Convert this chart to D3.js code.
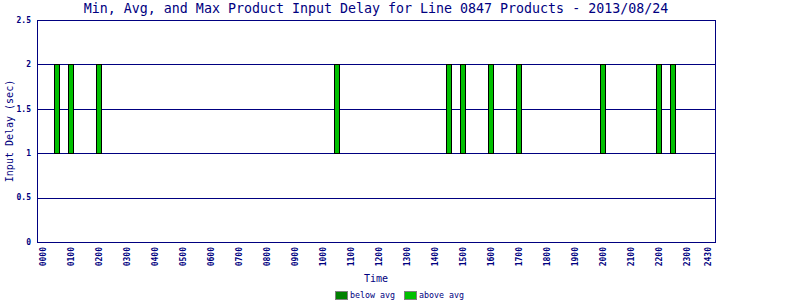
<!DOCTYPE html>
<html>
<head>
<meta charset="utf-8">
<script src="https://cdn.jsdelivr.net/npm/d3@7"></script>
<style>
  body { margin: 0; background: #fff; }
  text { font-family: "DejaVu Sans Mono", monospace; fill: #000080; }
</style>
</head>
<body>
<div id="chart"></div>
<script>
// sample times (hhmm) and delay stats in seconds
const times = ['0030', '0100', '0200', '1030', '1430', '1500', '1600', '1700', '2000', '2200', '2230'];
const minDelay = [1, 1, 1, 1, 1, 1, 1, 1, 1, 1, 1];
const avgDelay = [1, 1, 1, 1, 1, 1, 1, 1, 1, 1, 1];
const maxDelay = [2, 2, 2, 2, 2, 2, 2, 2, 2, 2, 2];

const xTickHours = d3.range(0, 24).concat([23.75]);
const xTickLabels = ['0000', '0100', '0200', '0300', '0400', '0500', '0600', '0700', '0800', '0900',
  '1000', '1100', '1200', '1300', '1400', '1500', '1600', '1700', '1800', '1900',
  '2000', '2100', '2200', '2300', '2430'];
const yTicks = [0, 0.5, 1, 1.5, 2, 2.5];
const legendLabels = ['below avg', 'above avg'];

const width = 800;
const height = 300;
const margin = { top: 20, right: 85, bottom: 58, left: 37 };
const innerW = width - margin.left - margin.right;
const innerH = height - margin.top - margin.bottom;
const navy = '#000080';
const colBelow = '#008000';
const colAbove = '#00c000';

const toHours = (t) => +t.slice(0, 2) + +t.slice(2) / 60;

const svg = d3
  .select('#chart')
  .append('svg')
  .attr('width', width)
  .attr('height', height);

const g = svg.append('g').attr('transform', `translate(${margin.left},${margin.top})`);

const x = d3.scaleLinear().domain([-0.2, 24]).range([0, innerW]);
const y = d3.scaleLinear().domain([0, 2.5]).range([innerH, 0]);

// horizontal grid lines
g.selectAll('line.grid')
  .data(yTicks)
  .enter()
  .append('line')
  .attr('class', 'grid')
  .attr('x1', 0)
  .attr('x2', innerW)
  .attr('y1', (d) => Math.round(y(d)) + 0.5)
  .attr('y2', (d) => Math.round(y(d)) + 0.5)
  .attr('stroke', navy)
  .attr('stroke-width', 1);

// bars: min..avg (below) and avg..max (above)
const rows = times.map((t, i) => ({ h: toHours(t), min: minDelay[i], avg: avgDelay[i], max: maxDelay[i] }));
const barW = 6;

g.selectAll('rect.below')
  .data(rows.filter((d) => d.avg > d.min))
  .enter()
  .append('rect')
  .attr('x', (d) => Math.round(x(d.h)) - barW / 2 + 0.5)
  .attr('y', (d) => Math.round(y(d.avg)) + 0.5)
  .attr('width', barW - 1)
  .attr('height', (d) => Math.round(y(d.min)) - Math.round(y(d.avg)))
  .attr('fill', colBelow)
  .attr('stroke', '#000');

g.selectAll('rect.above')
  .data(rows.filter((d) => d.max > d.avg))
  .enter()
  .append('rect')
  .attr('x', (d) => Math.round(x(d.h)) - barW / 2 + 0.5)
  .attr('y', (d) => Math.round(y(d.max)) + 0.5)
  .attr('width', barW - 1)
  .attr('height', (d) => Math.round(y(d.avg)) - Math.round(y(d.max)))
  .attr('fill', colAbove)
  .attr('stroke', '#000');

// plot frame
g.append('rect')
  .attr('x', 0.5)
  .attr('y', 0.5)
  .attr('width', innerW)
  .attr('height', innerH)
  .attr('fill', 'none')
  .attr('stroke', navy);

// y tick labels
g.selectAll('text.ytick')
  .data(yTicks)
  .enter()
  .append('text')
  .attr('x', -6)
  .attr('y', (d) => y(d))
  .attr('dy', '0.35em')
  .attr('text-anchor', 'end')
  .style('font-size', '8px')
  .style('font-weight', 'bold')
  .text((d) => d);

// x tick labels (rotated)
g.selectAll('text.xtick')
  .data(xTickHours)
  .enter()
  .append('text')
  .attr('transform', (d) => `translate(${x(d) + 3},${innerH + 5}) rotate(-90)`)
  .attr('text-anchor', 'end')
  .style('font-size', '8px')
  .style('font-weight', 'bold')
  .text((d, i) => xTickLabels[i]);

// title
svg.append('text')
  .attr('x', margin.left + innerW / 2)
  .attr('y', 13)
  .attr('text-anchor', 'middle')
  .style('font-size', '13.3px')
  .text('Min, Avg, and Max Product Input Delay for Line 0847 Products - 2013/08/24');

// axis titles
svg.append('text')
  .attr('x', margin.left + innerW / 2)
  .attr('y', 282)
  .attr('text-anchor', 'middle')
  .style('font-size', '10px')
  .text('Time');

svg.append('text')
  .attr('transform', `translate(13,${margin.top + innerH / 2}) rotate(-90)`)
  .attr('text-anchor', 'middle')
  .style('font-size', '10px')
  .text('Input Delay (sec)');

// legend
const legend = svg.append('g').attr('transform', 'translate(335,291)');
const legendColors = [colBelow, colAbove];
const legendX = [0, 69];

legend.selectAll('rect')
  .data(legendLabels)
  .enter()
  .append('rect')
  .attr('x', (d, i) => legendX[i] + 0.5)
  .attr('y', 0.5)
  .attr('width', 12)
  .attr('height', 8)
  .attr('fill', (d, i) => legendColors[i])
  .attr('stroke', '#808080');

legend.selectAll('text')
  .data(legendLabels)
  .enter()
  .append('text')
  .attr('x', (d, i) => legendX[i] + 15)
  .attr('y', 7)
  .style('font-size', '8.3px')
  .text((d) => d);
</script>
</body>
</html>
